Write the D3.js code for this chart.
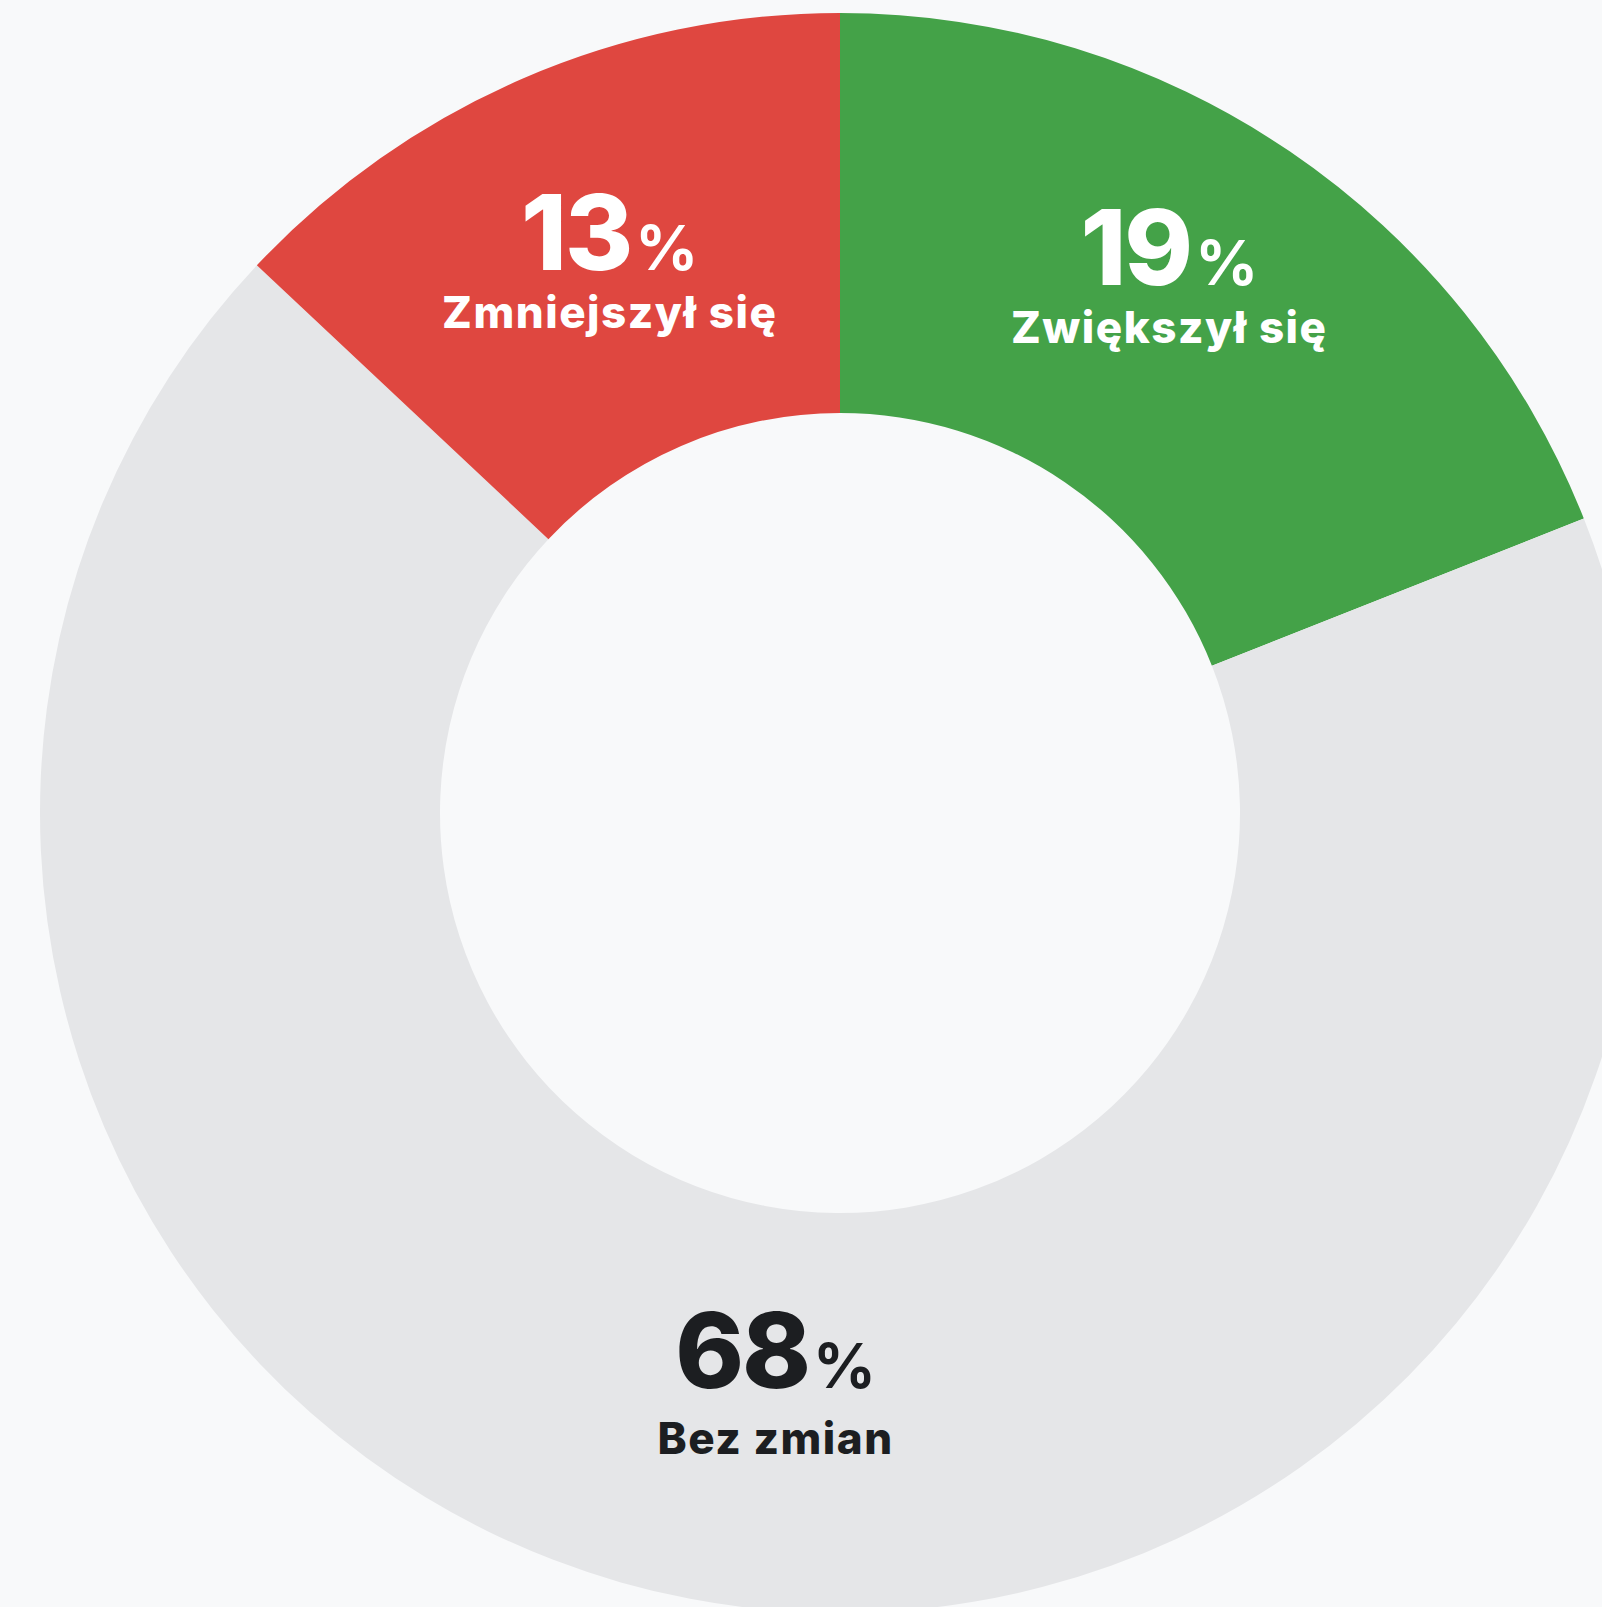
<!DOCTYPE html>
<html>
  <head>
    <meta charset="utf-8" />
    <style>
      body {
        margin: 0;
        background: #f8f9fa;
        overflow: hidden;
      }
      svg {
        display: block;
        font-family: Inter, "Noto Sans", sans-serif;
      }
      .num {
        font-size: 104px;
        font-weight: 800;
        letter-spacing: -2px;
      }
      .pct {
        font-size: 62px;
        font-weight: 700;
        letter-spacing: 0;
      }
      .name {
        font-size: 44px;
        font-weight: 800;
        letter-spacing: 1.5px;
      }
    </style>
  </head>
  <body>
    <svg width="1602" height="1607"></svg>

    <script src="https://d3js.org/d3.v7.min.js"></script>
    <script>
      // data, in drawing order (clockwise from 12 o'clock)
      let categories = ["Zwiększył się", "Bez zmian", "Zmniejszył się"];
      let shares = [19, 68, 13];
      let colors = ["#44a248", "#e5e6e8", "#df4740"];
      let textColors = ["#ffffff", "#1c1e21", "#ffffff"];

      let width = 1602;
      let height = 1607;
      let cx = 840;
      let cy = 813;
      let outer = 800;
      let inner = 400;

      let svg = d3.select("svg");

      svg
        .append("rect")
        .attr("width", width)
        .attr("height", height)
        .attr("fill", "#f8f9fa");

      let rows = categories.map((c, i) => ({
        name: c,
        value: shares[i],
        color: colors[i],
        text: textColors[i],
      }));

      let pie = d3
        .pie()
        .value((d) => d.value)
        .sort(null);

      let arc = d3.arc().innerRadius(inner).outerRadius(outer);

      let g = svg.append("g").attr("transform", `translate(${cx}, ${cy})`);

      let arcs = pie(rows);

      g.selectAll(".slice")
        .data(arcs)
        .join("path")
        .attr("class", "slice")
        .attr("d", arc)
        .attr("fill", (d) => d.data.color);

      // labels sit around the arc centroid, nudged a bit like the original
      // [dx, dy, gap between number and name]
      let nudge = {
        "Zwiększył się": [-8, -42, 58],
        "Bez zmian": [48, -24, 66],
        "Zmniejszył się": [8, -2, 58],
      };

      let labels = g
        .selectAll(".label")
        .data(arcs)
        .join("g")
        .attr("class", "label")
        .attr("transform", (d) => {
          let [x, y] = arc.centroid(d);
          let n = nudge[d.data.name];
          return `translate(${x + n[0]}, ${y + n[1]})`;
        });

      let numText = labels
        .append("text")
        .attr("class", "num")
        .attr("text-anchor", "middle")
        .attr("y", 10)
        .attr("fill", (d) => d.data.text);
      numText.append("tspan").text((d) => d.data.value);
      numText.append("tspan").attr("class", "pct").attr("dx", 4).text("%");

      labels
        .append("text")
        .attr("class", "name")
        .attr("text-anchor", "middle")
        .attr("y", (d) => 10 + nudge[d.data.name][2])
        .attr("fill", (d) => d.data.text)
        .text((d) => d.data.name);
    </script>
  </body>
</html>
